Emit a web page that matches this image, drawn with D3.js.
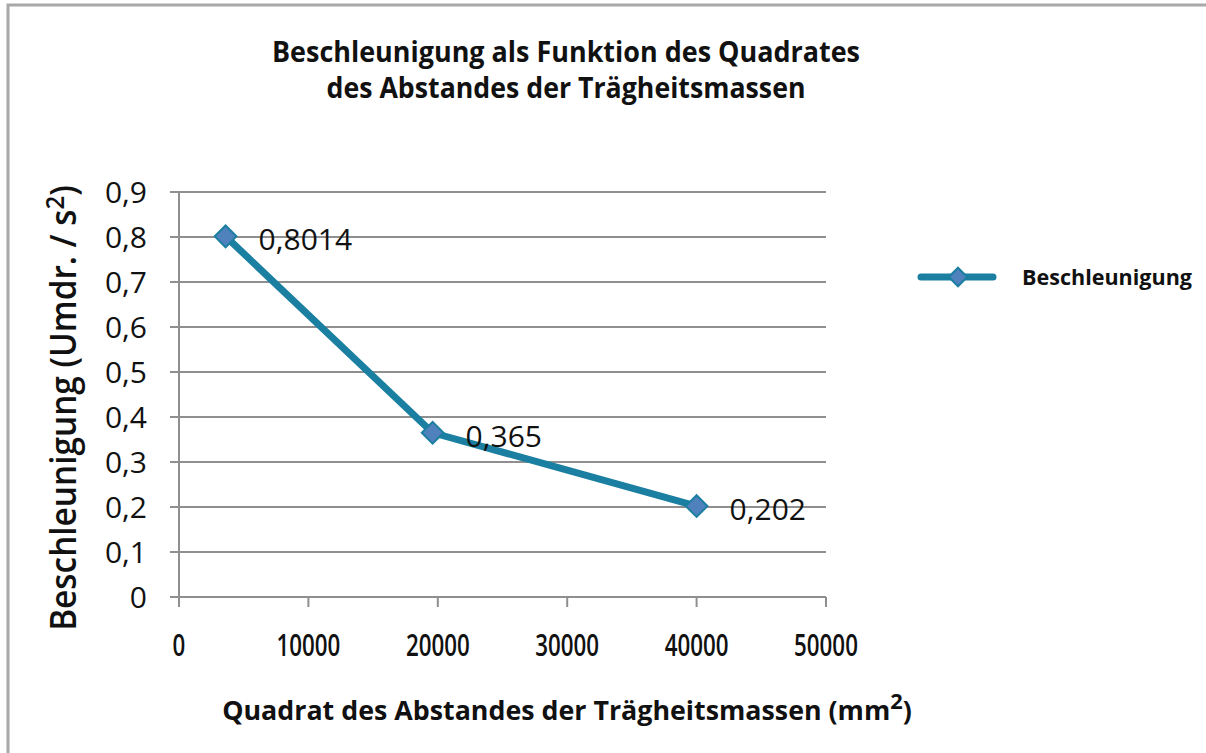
<!DOCTYPE html>
<html>
<head>
<meta charset="utf-8">
<script src="https://cdn.jsdelivr.net/npm/d3@7"></script>
<style>
  body { margin: 0; background: #fff; }
  svg { display: block; font-family: "Open Sans", sans-serif; }
</style>
</head>
<body>
<svg id="chart" width="1206" height="753"></svg>
<script>
// data
let xValues = [3600, 19600, 40000];
let yValues = [0.8014, 0.365, 0.202];
let pointLabels = ['0,8014', '0,365', '0,202'];
let xTicks = [0, 10000, 20000, 30000, 40000, 50000];
let yTicks = [0, 0.1, 0.2, 0.3, 0.4, 0.5, 0.6, 0.7, 0.8, 0.9];
let seriesName = 'Beschleunigung';

let lineColor = '#1a7fa0';
let markerColor = '#4f81bd';
let gridColor = '#8f8f8f';

let svg = d3.select('#chart');

let x = d3.scaleLinear().domain([0, 50000]).range([179, 826]);
let y = d3.scaleLinear().domain([0, 0.9]).range([597, 192]);

// frame of the chart area
svg.append('path')
    .attr('d', 'M8,753 V5 H1206')
    .attr('fill', 'none')
    .attr('stroke', '#a8a8a8')
    .attr('stroke-width', 3);

// squeeze text to the width it has in the picture
function fitWidth(sel, w) {
    sel.attr('textLength', w).attr('lengthAdjust', 'spacingAndGlyphs');
}

// same, but by scaling, for texts with tspans
function squeeze(g, cx, w) {
    let bw = g.node().getBBox().width;
    let k = w / bw;
    g.attr('transform', `translate(${cx},0) scale(${k},1) translate(${-cx},0)`);
}

// title
let title = svg.append('g')
    .attr('font-weight', 700)
    .attr('font-size', 29)
    .attr('text-anchor', 'middle')
    .attr('fill', '#111');
fitWidth(title.append('text').attr('x', 566).attr('y', 62)
    .text('Beschleunigung als Funktion des Quadrates'), 588);
fitWidth(title.append('text').attr('x', 566).attr('y', 98)
    .text('des Abstandes der Trägheitsmassen'), 479);

// horizontal grid
svg.append('g')
    .selectAll('line')
    .data(yTicks)
    .join('line')
    .attr('x1', 170)
    .attr('x2', x(50000))
    .attr('y1', d => y(d))
    .attr('y2', d => y(d))
    .attr('stroke', gridColor)
    .attr('stroke-width', 2);

// y axis line
svg.append('line')
    .attr('x1', x(0)).attr('x2', x(0))
    .attr('y1', y(0.9)).attr('y2', y(0) + 9)
    .attr('stroke', gridColor)
    .attr('stroke-width', 2);

// x axis ticks
svg.append('g')
    .selectAll('line')
    .data(xTicks)
    .join('line')
    .attr('x1', d => x(d))
    .attr('x2', d => x(d))
    .attr('y1', y(0))
    .attr('y2', y(0) + 10)
    .attr('stroke', gridColor)
    .attr('stroke-width', 2);

// y tick labels
svg.append('g')
    .selectAll('text')
    .data(yTicks)
    .join('text')
    .attr('x', 147)
    .attr('y', d => y(d))
    .attr('dy', '0.36em')
    .attr('text-anchor', 'end')
    .attr('font-size', 30)
    .attr('fill', '#111')
    .text(d => d === 0 ? '0' : d3.format('.1f')(d).replace('.', ','));

// x tick labels
svg.append('g')
    .selectAll('text')
    .data(xTicks)
    .join('text')
    .attr('x', d => x(d))
    .attr('y', 656)
    .attr('text-anchor', 'middle')
    .attr('font-size', 31)
    .attr('font-weight', 600)
    .attr('fill', '#111')
    .text(d => String(d))
    .each(function () {
        fitWidth(d3.select(this), this.getComputedTextLength() * 0.72);
    });

// axis titles
let yTitleG = svg.append('g').attr('transform', 'translate(76,408) rotate(-90)');
let yTitle = yTitleG.append('text')
    .attr('text-anchor', 'middle')
    .attr('font-size', 36)
    .attr('font-weight', 600)
    .attr('fill', '#111');
yTitle.append('tspan').text('Beschleunigung (Umdr. / s');
yTitle.append('tspan').attr('font-size', 26).attr('dy', -12).text('2');
yTitle.append('tspan').attr('dy', 12).text(')');
squeeze(yTitle, 0, 446);

let xTitle = svg.append('text')
    .attr('x', 567)
    .attr('y', 720)
    .attr('text-anchor', 'middle')
    .attr('font-size', 27)
    .attr('font-weight', 700)
    .attr('fill', '#111');
xTitle.append('tspan').text('Quadrat des Abstandes der Trägheitsmassen (mm');
xTitle.append('tspan').attr('font-size', 22).attr('dy', -11).text('2');
xTitle.append('tspan').attr('dy', 11).text(')');
squeeze(xTitle, 567, 690);

// series line
let points = xValues.map((v, i) => [v, yValues[i]]);
svg.append('path')
    .datum(points)
    .attr('d', d3.line().x(d => x(d[0])).y(d => y(d[1])))
    .attr('fill', 'none')
    .attr('stroke', lineColor)
    .attr('stroke-width', 7)
    .attr('stroke-linejoin', 'round');

let diamond = d3.symbol().type(d3.symbolDiamond2).size(300);

svg.append('g')
    .selectAll('path')
    .data(points)
    .join('path')
    .attr('d', diamond)
    .attr('transform', d => `translate(${x(d[0])},${y(d[1])})`)
    .attr('fill', markerColor)
    .attr('stroke', lineColor)
    .attr('stroke-width', 2);

// data labels
svg.append('g')
    .selectAll('text')
    .data(points)
    .join('text')
    .attr('x', d => x(d[0]) + 33)
    .attr('y', d => y(d[1]) + 3)
    .attr('dy', '0.36em')
    .attr('font-size', 30)
    .attr('fill', '#111')
    .text((d, i) => pointLabels[i]);

// legend
let legend = svg.append('g').attr('transform', 'translate(921,277)');
legend.append('line')
    .attr('x1', 0).attr('x2', 72)
    .attr('stroke', lineColor)
    .attr('stroke-width', 7)
    .attr('stroke-linecap', 'round');
legend.append('path')
    .attr('d', d3.symbol().type(d3.symbolDiamond2).size(220))
    .attr('transform', 'translate(37,0)')
    .attr('fill', markerColor)
    .attr('stroke', lineColor)
    .attr('stroke-width', 2);
let legendText = legend.append('text')
    .attr('x', 101)
    .attr('dy', '0.36em')
    .attr('font-size', 22)
    .attr('font-weight', 700)
    .attr('fill', '#111')
    .text(seriesName);
fitWidth(legendText, 170);
</script>
</body>
</html>
